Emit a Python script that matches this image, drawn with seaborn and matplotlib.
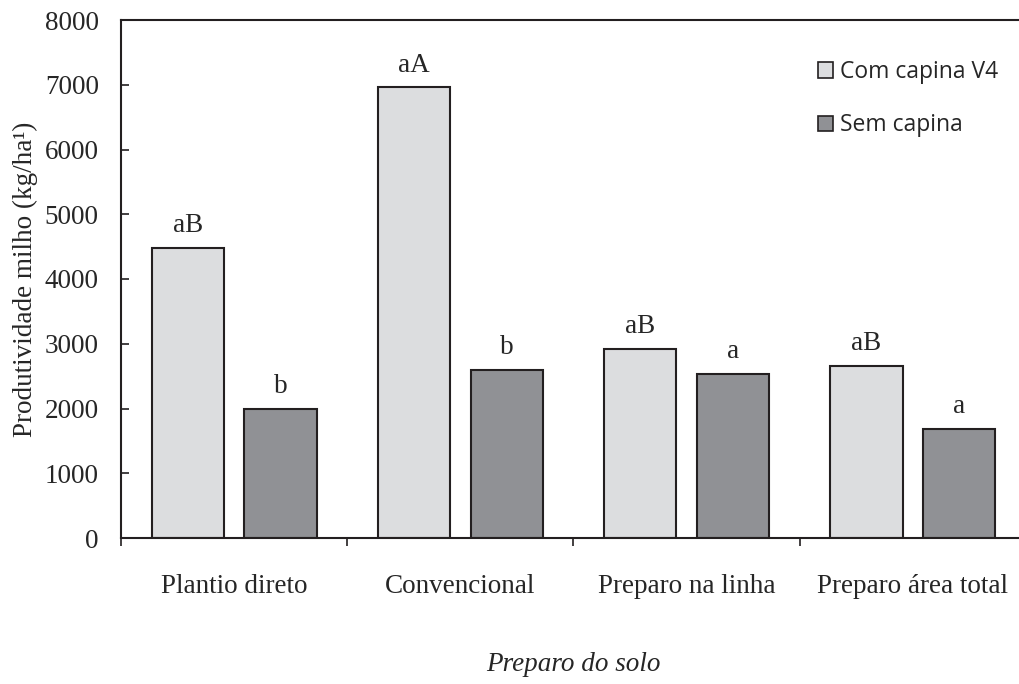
import matplotlib
matplotlib.use("Agg")
import pandas as pd
import matplotlib.pyplot as plt
import seaborn as sns
from matplotlib.patches import Patch

# Dados
preparos = ["Plantio direto", "Convencional", "Preparo na linha", "Preparo área total"]
tratamentos = ["Com capina V4", "Sem capina"]
com_capina = [4480, 6960, 2920, 2660]
sem_capina = [2000, 2600, 2530, 1680]
letras_com = ["aB", "aA", "aB", "aB"]
letras_sem = ["b", "b", "a", "a"]

df = pd.DataFrame({
    "Preparo": preparos * 2,
    "Tratamento": [tratamentos[0]] * len(preparos) + [tratamentos[1]] * len(preparos),
    "Produtividade": com_capina + sem_capina,
})

sns.set_theme(style="ticks")
plt.rcParams["font.family"] = ["Liberation Serif", "DejaVu Serif"]

cores = {"Com capina V4": "#dcdddf", "Sem capina": "#909195"}
borda = "#231f20"
tam = 19.5

fig = plt.figure(figsize=(10.2, 6.84), dpi=100)
ax = fig.add_axes([121 / 1020, 1 - 538 / 684, 905 / 1020, 518 / 684])

sns.barplot(
    data=df, x="Preparo", y="Produtividade", hue="Tratamento",
    order=preparos, hue_order=tratamentos, palette=cores,
    width=0.82, gap=0.22, edgecolor=borda, linewidth=1.5,
    saturation=1, errorbar=None, legend=False, ax=ax,
)

# Letras de significância
ax.bar_label(ax.containers[0], labels=letras_com, padding=7, fontsize=tam)
ax.bar_label(ax.containers[1], labels=letras_sem, padding=7, fontsize=tam)

ax.set_xlim(-0.5, 3.5)
ax.set_ylim(0, 8000)
ax.set_yticks(range(0, 8001, 1000))
ax.set_xticks([-0.5, 0.5, 1.5, 2.5, 3.5], minor=True)

for lado in ["left", "top", "bottom"]:
    ax.spines[lado].set_color(borda)
    ax.spines[lado].set_linewidth(1.5)
ax.spines["right"].set_visible(False)

ax.tick_params(axis="y", direction="in", length=6, width=1.2, color=borda,
               pad=16, labelsize=tam)
ax.tick_params(axis="x", which="major", length=0, pad=26, labelsize=tam)
ax.tick_params(axis="x", which="minor", direction="out", length=6, width=1.2,
               color=borda)

ax.set_ylabel("Produtividade milho (kg/ha¹)", fontsize=tam, labelpad=5)
ax.set_xlabel("Preparo do solo", fontsize=tam, style="italic", labelpad=38)

handles = [Patch(facecolor=cores[t], edgecolor=borda, linewidth=1.2) for t in tratamentos]
ax.legend(
    handles, tratamentos, loc="upper left",
    bbox_to_anchor=(818 / 1020, 1 - 60 / 684), bbox_transform=fig.transFigure,
    frameon=False, prop={"family": "Open Sans", "size": 16.5},
    handlelength=0.66, handleheight=0.66, handletextpad=0.3,
    labelspacing=1.28, borderpad=0, borderaxespad=0,
)

fig.savefig("out.png", dpi=100)
